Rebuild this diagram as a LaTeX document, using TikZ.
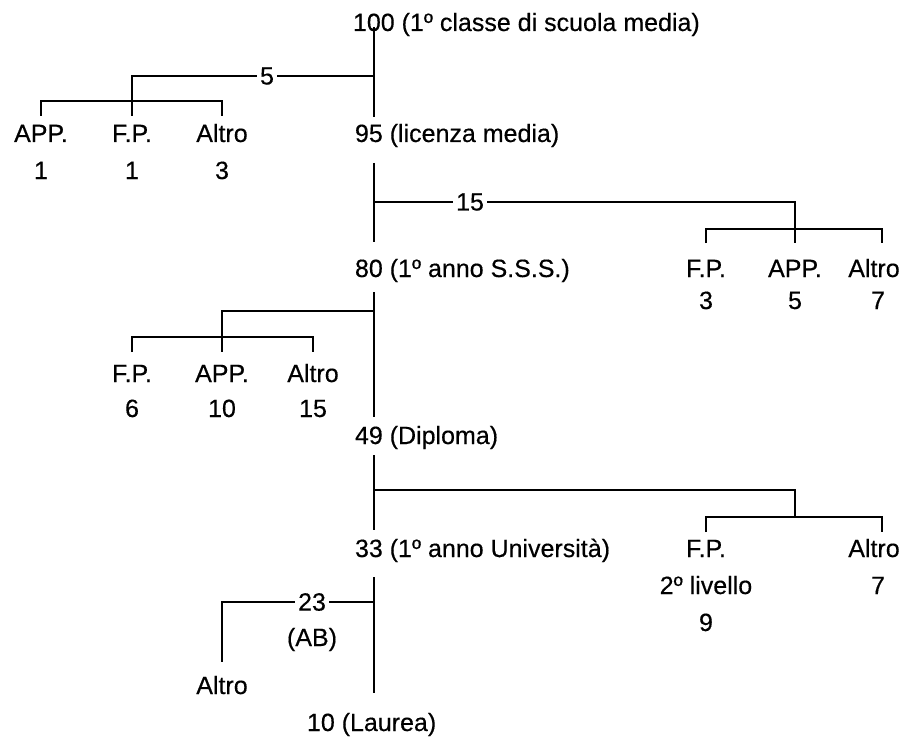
\documentclass[tikz,border=0pt]{standalone}
\usepackage{fontspec}
\setmainfont{Liberation Sans}
\newfontfamily\diagfont{Liberation Sans}[FakeBold=0.4]
\begin{document}
\begin{tikzpicture}[x=1pt,y=-1pt,
  every node/.style={inner sep=0pt,outer sep=0pt,font=\diagfont\fontsize{25}{34}\selectfont},
  lab/.style={anchor=base},
  main/.style={anchor=base west},
  num/.style={fill=white,inner xsep=3pt,inner ysep=2pt,anchor=center},
  ln/.style={line width=1.8pt}]
\useasboundingbox (0,0) rectangle (917,738);
\def\M{374}
% ---- texts
\node[main] (t100) at (353,31) {100 (1º classe di scuola media)};
\node[main] (t95) at (355,142) {95 (licenza media)};
\node[main] (t80) at (355,277) {80 (1º anno S.S.S.)};
\node[main] (t49) at (355,444) {49 (Diploma)};
\node[main] (t33) at (355,557) {33 (1º anno Università)};
\node[main] (t10) at (307,731) {10 (Laurea)};
% row 1 left
\node[lab] (a1) at (41,142) {APP.};
\node[lab] (a1n) at (41,179) {1};
\node[lab] (b1) at (132,142) {F.P.};
\node[lab] (b1n) at (132,179) {1};
\node[lab] (c1) at (222,142) {Altro};
\node[lab] (c1n) at (222,179) {3};
% row 2 right
\node[lab] (a2) at (706,277) {F.P.};
\node[lab] (a2n) at (706,309) {3};
\node[lab] (b2) at (795,277) {APP.};
\node[lab] (b2n) at (795,309) {5};
\node[lab] (c2) at (874,277) {Altro};
\node[lab] (c2n) at (878,309) {7};
% row 3 left
\node[lab] (a3) at (132,382) {F.P.};
\node[lab] (a3n) at (132,417) {6};
\node[lab] (b3) at (222,382) {APP.};
\node[lab] (b3n) at (222,417) {10};
\node[lab] (c3) at (313,382) {Altro};
\node[lab] (c3n) at (313,417) {15};
% row 5 right
\node[lab] (a5) at (706,557) {F.P.};
\node[lab] (a5l) at (706,594) {2º livello};
\node[lab] (a5n) at (706,631) {9};
\node[lab] (c5) at (874,557) {Altro};
\node[lab] (c5n) at (878,594) {7};
% row 6
\node[lab] (a6) at (222,694) {Altro};
% ---- coordinates
\coordinate (s1) at (\M,27);  \coordinate (e1) at (\M,117);
\coordinate (s2) at (\M,163); \coordinate (e2) at (\M,242);
\coordinate (s3) at (\M,292); \coordinate (e3) at (\M,417);
\coordinate (s4) at (\M,455); \coordinate (e4) at (\M,530);
\coordinate (s5) at (\M,577); \coordinate (e5) at (\M,693);
% branch 1
\coordinate (j1) at (\M,76);
\coordinate (k1) at (132,76);
\coordinate (m1) at (132,116);
\coordinate (l1) at (41,101); \coordinate (r1) at (222,101);
\coordinate (l1b) at (41,116); \coordinate (r1b) at (222,116);
% branch 2
\coordinate (j2) at (\M,202);
\coordinate (k2) at (795,202);
\coordinate (m2) at (795,243);
\coordinate (l2) at (706,229); \coordinate (r2) at (882,229);
\coordinate (l2b) at (706,243); \coordinate (r2b) at (882,243);
% branch 3
\coordinate (j3) at (\M,311);
\coordinate (k3) at (222,311);
\coordinate (m3) at (222,352);
\coordinate (l3) at (132,337); \coordinate (r3) at (313,337);
\coordinate (l3b) at (132,352); \coordinate (r3b) at (313,352);
% branch 4
\coordinate (j4) at (\M,490);
\coordinate (k4) at (795,490);
\coordinate (m4) at (795,517);
\coordinate (l4) at (706,517); \coordinate (r4) at (882,517);
\coordinate (l4b) at (706,532); \coordinate (r4b) at (882,532);
% branch 5
\coordinate (j5) at (\M,602);
\coordinate (k5) at (222,602);
\coordinate (m5) at (222,662);
% ---- lines
\draw[ln] (s1) -- (e1);
\draw[ln] (s2) -- (e2);
\draw[ln] (s3) -- (e3);
\draw[ln] (s4) -- (e4);
\draw[ln] (s5) -- (e5);
\draw[ln] (j1) -- (k1) -- (m1);
\draw[ln] (l1b) -- (l1) -- (r1) -- (r1b);
\draw[ln] (j2) -- (k2) -- (m2);
\draw[ln] (l2b) -- (l2) -- (r2) -- (r2b);
\draw[ln] (j3) -- (k3) -- (m3);
\draw[ln] (l3b) -- (l3) -- (r3) -- (r3b);
\draw[ln] (j4) -- (k4) -- (m4);
\draw[ln] (l4b) -- (l4) -- (r4) -- (r4b);
\draw[ln] (j5) -- (k5) -- (m5);
% ---- labels on lines
\node[num] (n5) at (267,76) {5};
\node[num] (n15) at (470,202) {15};
\node[num] (n23) at (312,602) {23};
\node[lab] (nab) at (312,646) {(AB)};
\end{tikzpicture}
\end{document}
